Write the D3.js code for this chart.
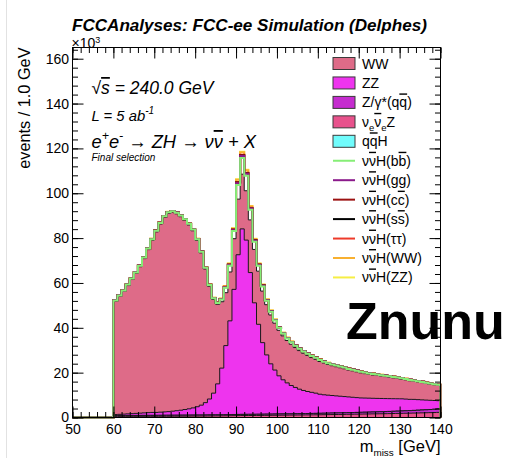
<!DOCTYPE html>
<html>
<head>
<meta charset="utf-8">
<script src="https://cdn.jsdelivr.net/npm/d3@7"></script>
<style>
  body { margin: 0; background: #fff; }
  svg { display: block; font-family: "Liberation Sans", Arial, Helvetica, sans-serif; }
</style>
</head>
<body>
<div id="chart"></div>
<script>
// 1 GeV bins from 60 to 140 (values in units of 10^3 events)
const bins = d3.range(60, 140);

const WW = [
  50.5, 52.6, 54.7, 57.2, 59.8, 62.4, 65.3, 68.8, 72.7, 76.8,
  80.5, 83.9, 86.7, 88.4, 88.6, 87.8, 86.3, 84.3, 82.0, 79.0,
  74.2, 67.9, 59.6, 50.3, 41.8, 35.5, 29.6, 23.6, 21.8, 22.6,
  24.8, 24.4, 22.0, 23.5, 23.8, 23.7, 23.0, 22.4, 21.8, 20.9,
  20.3, 19.6, 18.9, 18.4, 17.8, 17.2, 16.6, 16.1, 15.5, 15.1,
  14.6, 14.2, 13.7, 13.3, 13.0, 12.7, 12.4, 12.0, 11.8, 11.5,
  11.2, 10.9, 10.6, 10.4, 10.2, 10.0, 9.8, 9.6, 9.3, 9.1,
  8.8, 8.6, 8.3, 8.1, 7.9, 7.7, 7.4, 7.2, 7.0, 6.8
];
const ZZ = [
  0.4, 0.5, 0.6, 0.7, 0.8, 0.9, 1.0, 1.1, 1.2, 1.3,
  1.3, 1.4, 1.5, 1.6, 1.8, 2.0, 2.2, 2.5, 2.8, 3.2,
  3.7, 4.4, 5.5, 7.1, 9.7, 13.8, 20.8, 30.8, 41.8, 55.8,
  71.2, 82.7, 77.7, 63.2, 49.7, 40.1, 31.9, 26.4, 22.4, 19.6,
  17.0, 15.2, 13.8, 12.6, 11.7, 10.9, 10.3, 9.8, 9.4, 9.0,
  8.5, 8.2, 8.0, 7.8, 7.6, 7.4, 7.2, 7.0, 6.8, 6.6,
  6.4, 6.3, 6.2, 6.1, 6.0, 5.9, 5.8, 5.7, 5.6, 5.5,
  5.4, 5.2, 5.0, 4.9, 4.7, 4.5, 4.3, 4.1, 3.9, 3.7
];
const Zgamma = [
  0.40, 0.40, 0.40, 0.41, 0.41, 0.41, 0.41, 0.42, 0.42, 0.42,
  0.42, 0.42, 0.43, 0.43, 0.43, 0.43, 0.44, 0.44, 0.44, 0.44,
  0.45, 0.45, 0.45, 0.46, 0.46, 0.47, 0.47, 0.48, 0.48, 0.49,
  0.49, 0.50, 0.50, 0.51, 0.51, 0.52, 0.52, 0.53, 0.53, 0.54,
  0.55, 0.55, 0.56, 0.57, 0.58, 0.59, 0.60, 0.61, 0.62, 0.63,
  0.64, 0.65, 0.66, 0.67, 0.68, 0.70, 0.71, 0.73, 0.74, 0.76,
  0.78, 0.80, 0.82, 0.84, 0.86, 0.89, 0.92, 0.95, 0.98, 1.01,
  1.05, 1.09, 1.13, 1.17, 1.22, 1.27, 1.32, 1.38, 1.44, 1.50
];
const nuenueZ = [
  0.50, 0.50, 0.50, 0.51, 0.51, 0.51, 0.52, 0.52, 0.53, 0.53,
  0.54, 0.55, 0.56, 0.57, 0.58, 0.59, 0.60, 0.61, 0.62, 0.63,
  0.64, 0.65, 0.66, 0.68, 0.70, 0.72, 0.74, 0.76, 0.79, 0.82,
  0.85, 0.87, 0.88, 0.89, 0.90, 0.92, 0.94, 0.96, 0.98, 1.00,
  1.02, 1.04, 1.06, 1.08, 1.10, 1.12, 1.14, 1.16, 1.18, 1.20,
  1.22, 1.25, 1.28, 1.31, 1.34, 1.37, 1.40, 1.43, 1.46, 1.49,
  1.52, 1.55, 1.58, 1.61, 1.64, 1.67, 1.70, 1.74, 1.78, 1.82,
  1.86, 1.90, 1.94, 1.98, 2.02, 2.07, 2.12, 2.17, 2.22, 2.28
];
const qqH = [
  0.01, 0.01, 0.01, 0.01, 0.01, 0.01, 0.01, 0.01, 0.01, 0.01,
  0.01, 0.01, 0.01, 0.01, 0.01, 0.01, 0.01, 0.01, 0.01, 0.01,
  0.01, 0.01, 0.01, 0.01, 0.01, 0.01, 0.02, 0.02, 0.03, 0.03,
  0.04, 0.04, 0.04, 0.03, 0.03, 0.02, 0.02, 0.02, 0.02, 0.02,
  0.02, 0.02, 0.02, 0.02, 0.02, 0.02, 0.02, 0.02, 0.02, 0.02,
  0.02, 0.02, 0.02, 0.02, 0.02, 0.02, 0.02, 0.02, 0.02, 0.02,
  0.02, 0.02, 0.02, 0.02, 0.02, 0.02, 0.02, 0.02, 0.02, 0.02,
  0.02, 0.02, 0.02, 0.02, 0.02, 0.02, 0.02, 0.02, 0.02, 0.02
];

const Hbb = [
  0.42, 0.43, 0.43, 0.44, 0.44, 0.45, 0.45, 0.46, 0.47, 0.48,
  0.49, 0.50, 0.50, 0.51, 0.51, 0.51, 0.50, 0.50, 0.50, 0.51,
  0.51, 0.52, 0.52, 0.53, 0.53, 0.58, 1.01, 2.16, 2.74, 3.38,
  6.34, 7.20, 6.70, 4.46, 3.46, 2.45, 2.09, 1.73, 1.44, 1.22,
  1.08, 1.01, 0.94, 0.86, 0.83, 0.79, 0.76, 0.72, 0.68, 0.65,
  0.61, 0.59, 0.58, 0.56, 0.55, 0.53, 0.52, 0.50, 0.49, 0.48,
  0.46, 0.45, 0.44, 0.43, 0.42, 0.41, 0.40, 0.39, 0.38, 0.37,
  0.36, 0.35, 0.34, 0.33, 0.32, 0.31, 0.30, 0.29, 0.29, 0.28
];
const Hgg = [
  0.05, 0.05, 0.05, 0.05, 0.05, 0.05, 0.05, 0.05, 0.05, 0.05,
  0.06, 0.06, 0.06, 0.06, 0.06, 0.06, 0.06, 0.06, 0.06, 0.06,
  0.06, 0.06, 0.06, 0.06, 0.06, 0.07, 0.13, 0.27, 0.34, 0.42,
  0.79, 0.90, 0.84, 0.56, 0.43, 0.31, 0.26, 0.22, 0.18, 0.15,
  0.14, 0.13, 0.12, 0.11, 0.10, 0.10, 0.09, 0.09, 0.09, 0.08,
  0.08, 0.07, 0.07, 0.07, 0.07, 0.06, 0.06, 0.06, 0.06, 0.06,
  0.05, 0.05, 0.05, 0.05, 0.05, 0.05, 0.05, 0.05, 0.05, 0.05,
  0.05, 0.05, 0.05, 0.05, 0.05, 0.04, 0.04, 0.04, 0.04, 0.04
];
const Hcc = [
  0.02, 0.02, 0.02, 0.02, 0.02, 0.02, 0.02, 0.02, 0.02, 0.02,
  0.02, 0.02, 0.02, 0.02, 0.02, 0.02, 0.02, 0.02, 0.02, 0.02,
  0.02, 0.02, 0.02, 0.02, 0.02, 0.02, 0.04, 0.09, 0.11, 0.14,
  0.26, 0.30, 0.28, 0.19, 0.14, 0.10, 0.09, 0.07, 0.06, 0.05,
  0.05, 0.04, 0.04, 0.04, 0.03, 0.03, 0.03, 0.03, 0.03, 0.03,
  0.03, 0.02, 0.02, 0.02, 0.02, 0.02, 0.02, 0.02, 0.02, 0.02,
  0.02, 0.02, 0.02, 0.02, 0.02, 0.02, 0.02, 0.02, 0.02, 0.02,
  0.01, 0.01, 0.01, 0.01, 0.01, 0.01, 0.01, 0.01, 0.01, 0.01
];
const Hss = [
  0, 0, 0, 0, 0, 0, 0, 0, 0, 0,
  0, 0, 0, 0, 0, 0, 0, 0, 0, 0,
  0, 0, 0, 0, 0, 0, 0.01, 0.01, 0.02, 0.02,
  0.04, 0.04, 0.04, 0.03, 0.02, 0.01, 0.01, 0.01, 0, 0,
  0, 0, 0, 0, 0, 0, 0, 0, 0, 0,
  0, 0, 0, 0, 0, 0, 0, 0, 0, 0,
  0, 0, 0, 0, 0, 0, 0, 0, 0, 0,
  0, 0, 0, 0, 0, 0, 0, 0, 0, 0
];
const Htautau = [
  0.01, 0.01, 0.01, 0.01, 0.01, 0.01, 0.01, 0.01, 0.01, 0.01,
  0.01, 0.01, 0.01, 0.01, 0.01, 0.01, 0.01, 0.01, 0.01, 0.01,
  0.01, 0.01, 0.01, 0.01, 0.01, 0.01, 0.03, 0.07, 0.09, 0.11,
  0.21, 0.24, 0.22, 0.15, 0.11, 0.08, 0.07, 0.06, 0.05, 0.04,
  0.04, 0.03, 0.03, 0.03, 0.03, 0.03, 0.02, 0.02, 0.02, 0.02,
  0.02, 0.02, 0.02, 0.02, 0.02, 0.02, 0.02, 0.02, 0.02, 0.02,
  0.01, 0.01, 0.01, 0.01, 0.01, 0.01, 0.01, 0.01, 0.01, 0.01,
  0.01, 0.01, 0.01, 0.01, 0.01, 0.01, 0.01, 0.01, 0.01, 0.01
];
const HWW = [
  0.07, 0.07, 0.07, 0.07, 0.07, 0.07, 0.07, 0.07, 0.07, 0.07,
  0.08, 0.08, 0.08, 0.08, 0.08, 0.08, 0.08, 0.08, 0.08, 0.08,
  0.08, 0.08, 0.08, 0.08, 0.08, 0.09, 0.15, 0.33, 0.42, 0.52,
  0.97, 1.10, 1.02, 0.68, 0.53, 0.37, 0.32, 0.26, 0.22, 0.19,
  0.17, 0.15, 0.14, 0.13, 0.13, 0.12, 0.12, 0.11, 0.10, 0.10,
  0.09, 0.09, 0.09, 0.09, 0.09, 0.08, 0.08, 0.08, 0.08, 0.08,
  0.07, 0.07, 0.07, 0.07, 0.07, 0.06, 0.06, 0.06, 0.06, 0.06,
  0.06, 0.06, 0.06, 0.06, 0.06, 0.05, 0.05, 0.05, 0.05, 0.05
];
const HZZ = [
  0.01, 0.01, 0.01, 0.01, 0.01, 0.01, 0.01, 0.01, 0.01, 0.01,
  0.01, 0.01, 0.01, 0.01, 0.01, 0.01, 0.01, 0.01, 0.01, 0.01,
  0.01, 0.01, 0.01, 0.01, 0.01, 0.01, 0.03, 0.07, 0.09, 0.11,
  0.21, 0.25, 0.23, 0.15, 0.12, 0.08, 0.07, 0.06, 0.05, 0.04,
  0.03, 0.03, 0.03, 0.03, 0.03, 0.03, 0.02, 0.02, 0.02, 0.02,
  0.02, 0.02, 0.02, 0.02, 0.02, 0.02, 0.02, 0.02, 0.02, 0.02,
  0.01, 0.01, 0.01, 0.01, 0.01, 0.01, 0.01, 0.01, 0.01, 0.01,
  0.01, 0.01, 0.01, 0.01, 0.01, 0.01, 0.01, 0.01, 0.01, 0.01
];

const xTicks = d3.range(50, 141, 10);
const yTicks = d3.range(0, 161, 20);

// stacking order, bottom to top
const bgKeys = ['nuenueZ', 'Zgamma', 'qqH', 'ZZ', 'WW'];
const sigKeys = ['Hbb', 'Hgg', 'Hcc', 'Hss', 'Htautau', 'HWW', 'HZZ'];
const series = { WW, ZZ, Zgamma, nuenueZ, qqH, Hbb, Hgg, Hcc, Hss, Htautau, HWW, HZZ };

const colors = {
  WW: '#de6b88', ZZ: '#ee34ee', Zgamma: '#c52ccf', nuenueZ: '#e8528c', qqH: '#70fcfc',
  Hbb: '#86ee76', Hgg: '#8b1a8b', Hcc: '#9c1212', Hss: '#000000',
  Htautau: '#ee3a2a', HWW: '#f8b030', HZZ: '#f6ee44'
};

const W = 507, H = 458;
const x = d3.scaleLinear().domain([50, 140]).range([72.5, 440.5]);
const y = d3.scaleLinear().domain([0, 165]).range([417.5, 47.5]);

const svg = d3.select('#chart').append('svg')
  .attr('width', W)
  .attr('height', H)
  .attr('viewBox', [0, 0, W, H]);

// faint page border seen at left of the reference
svg.append('line')
  .attr('x1', 6.5).attr('x2', 6.5).attr('y1', 0).attr('y2', H)
  .attr('stroke', '#e2e2e2');

svg.append('defs').append('clipPath').attr('id', 'frame')
  .append('rect')
  .attr('x', x(50) - 1).attr('y', y(165))
  .attr('width', x(140) - x(50) + 2).attr('height', y(0) - y(165) + 2);

const rows = bins.map((b, i) => {
  const r = { bin: b };
  Object.keys(series).forEach(k => { r[k] = series[k][i]; });
  return r;
});
const stacked = d3.stack().keys([...bgKeys, ...sigKeys])(rows);
const byKey = {};
stacked.forEach(s => { byKey[s.key] = s; });

const line = d3.line().x(d => x(d[0])).y(d => y(d[1]));

// step outline of a cumulative histogram
function stepPoints(s, fromX) {
  const pts = [];
  if (fromX < bins[0]) pts.push([fromX, 0]);
  pts.push([bins[0], 0]);
  s.forEach((d, i) => {
    pts.push([bins[i], d[1]]);
    pts.push([bins[i] + 1, d[1]]);
  });
  pts.push([bins[bins.length - 1] + 1, 0]);
  return pts;
}

const plot = svg.append('g').attr('clip-path', 'url(#frame)');

// backgrounds: paint from the top of the stack downwards (THStack style)
bgKeys.slice().reverse().forEach(k => {
  plot.append('path')
    .attr('d', line(stepPoints(byKey[k], bins[0])) + 'Z')
    .attr('fill', colors[k])
    .attr('stroke', '#1a1a1a')
    .attr('stroke-width', 1);
});

// signals: unfilled lines stacked on top of the backgrounds
sigKeys.slice().reverse().forEach(k => {
  plot.append('path')
    .attr('d', line(stepPoints(byKey[k], 50)))
    .attr('fill', 'none')
    .attr('stroke', colors[k])
    .attr('stroke-width', 2);
});

// ----- axes, ROOT style ticks inside the frame -----
function styleAxis(g) {
  g.select('.domain').remove();
  g.selectAll('line').attr('stroke', '#000');
  g.selectAll('text').attr('font-size', 14).attr('font-family', null).attr('fill', '#000');
}
const fBottom = y(0), fTop = y(165), fLeft = x(50), fRight = x(140);

svg.append('g').attr('transform', `translate(0,${fBottom})`)
  .call(d3.axisBottom(x).tickValues(d3.range(50, 141, 2)).tickSize(-5.5).tickFormat(''))
  .call(styleAxis);
svg.append('g').attr('transform', `translate(0,${fBottom})`)
  .call(d3.axisBottom(x).tickValues(xTicks).tickSize(-11).tickPadding(6.5).tickFormat(d3.format('d')))
  .call(styleAxis);
svg.append('g').attr('transform', `translate(0,${fTop})`)
  .call(d3.axisTop(x).tickValues(d3.range(50, 141, 2)).tickSize(-5.5).tickFormat(''))
  .call(styleAxis);
svg.append('g').attr('transform', `translate(0,${fTop})`)
  .call(d3.axisTop(x).tickValues(xTicks).tickSize(-11).tickFormat(''))
  .call(styleAxis);

svg.append('g').attr('transform', `translate(${fLeft},0)`)
  .call(d3.axisLeft(y).tickValues(d3.range(0, 165, 4)).tickSize(-5.5).tickFormat(''))
  .call(styleAxis);
svg.append('g').attr('transform', `translate(${fLeft},0)`)
  .call(d3.axisLeft(y).tickValues(yTicks).tickSize(-11).tickPadding(3.5).tickFormat(d3.format('d')))
  .call(styleAxis);
svg.append('g').attr('transform', `translate(${fRight},0)`)
  .call(d3.axisRight(y).tickValues(d3.range(0, 165, 4)).tickSize(-5.5).tickFormat(''))
  .call(styleAxis);
svg.append('g').attr('transform', `translate(${fRight},0)`)
  .call(d3.axisRight(y).tickValues(yTicks).tickSize(-11).tickFormat(''))
  .call(styleAxis);

svg.append('rect')
  .attr('x', fLeft).attr('y', fTop)
  .attr('width', fRight - fLeft).attr('height', fBottom - fTop)
  .attr('fill', 'none').attr('stroke', '#000').attr('stroke-width', 1);

// text with sub/superscripts and overlines: parts = [[text, mode], ...]
function rich(g, parts, size, px, py, opts = {}) {
  const t = g.append('text')
    .attr('x', px).attr('y', py)
    .attr('font-size', size)
    .attr('fill', '#000');
  if (opts.italic) t.attr('font-style', 'italic');
  if (opts.bold) t.attr('font-weight', 'bold');
  if (opts.anchor) t.attr('text-anchor', opts.anchor);
  const small = opts.small || 0.68;
  const supUp = opts.supUp || 0.42;
  let shift = 0;
  parts.forEach(([s, mode]) => {
    const ts = t.append('tspan').text(s);
    const target = mode === 'sub' ? 0.28 * size : mode === 'sup' ? -supUp * size : 0;
    if (target !== shift) ts.attr('dy', target - shift);
    shift = target;
    if (mode === 'sub' || mode === 'sup') ts.attr('font-size', size * small);
    if (mode === 'over') ts.style('text-decoration', 'overline');
  });
  return t;
}

// title, fitted to the reference width
const title = svg.append('text')
  .attr('x', 72).attr('y', 31)
  .attr('font-size', 18).attr('font-weight', 'bold').attr('font-style', 'italic')
  .text('FCCAnalyses: FCC-ee Simulation (Delphes)');
const tw = title.node().getComputedTextLength();
title.attr('font-size', 18 * 355 / tw);

rich(svg, [['×10'], ['3', 'sup']], 14, 71.5, 47.5, { small: 0.64, supUp: 0.34 });

// axis titles
svg.append('text')
  .attr('transform', `translate(29.5,${fTop}) rotate(-90)`)
  .attr('text-anchor', 'end')
  .attr('font-size', 16.3)
  .text('events / 1.0 GeV');
rich(svg, [['m'], ['miss', 'sub'], [' [GeV]']], 16.5, fRight, 451.5, { anchor: 'end', small: 0.6 });

// annotations
rich(svg, [['√'], ['s', 'over'], [' = 240.0 GeV']], 17.5, 91.5, 94, { italic: true });
rich(svg, [['L = 5 ab'], ['-1', 'sup']], 14.8, 91.5, 120.5, { italic: true });
rich(svg, [['e'], ['+', 'sup'], ['e'], ['-', 'sup'], [' → ZH → ν'], ['ν', 'over'], [' + X']], 18.3, 91.5, 148, { italic: true });
svg.append('text')
  .attr('x', 91.5).attr('y', 160.5)
  .attr('font-size', 10).attr('font-style', 'italic')
  .text('Final selection');

// legend
const legendItems = [
  { key: 'WW', box: true, label: [['WW']] },
  { key: 'ZZ', box: true, label: [['ZZ']] },
  { key: 'Zgamma', box: true, label: [['Z/γ*(q'], ['q', 'over'], [')']] },
  { key: 'nuenueZ', box: true, label: [['ν'], ['e', 'sub'], ['ν', 'over'], ['e', 'sub'], ['Z']] },
  { key: 'qqH', box: true, label: [['q'], ['q', 'over'], ['H']] },
  { key: 'Hbb', label: [['ν'], ['ν', 'over'], ['H(b'], ['b', 'over'], [')']] },
  { key: 'Hgg', label: [['ν'], ['ν', 'over'], ['H(gg)']] },
  { key: 'Hcc', label: [['ν'], ['ν', 'over'], ['H(c'], ['c', 'over'], [')']] },
  { key: 'Hss', label: [['ν'], ['ν', 'over'], ['H(s'], ['s', 'over'], [')']] },
  { key: 'Htautau', label: [['ν'], ['ν', 'over'], ['H(ττ)']] },
  { key: 'HWW', label: [['ν'], ['ν', 'over'], ['H(WW)']] },
  { key: 'HZZ', label: [['ν'], ['ν', 'over'], ['H(ZZ)']] }
];
const legend = svg.append('g');
legendItems.forEach((d, i) => {
  const cy = 63.5 + i * 19.45;
  if (d.box) {
    legend.append('rect')
      .attr('x', 333).attr('y', cy - 6)
      .attr('width', 22).attr('height', 12)
      .attr('fill', colors[d.key])
      .attr('stroke', '#3a3a3a').attr('stroke-width', 1);
  } else {
    legend.append('line')
      .attr('x1', 333).attr('x2', 355).attr('y1', cy).attr('y2', cy)
      .attr('stroke', colors[d.key]).attr('stroke-width', 2);
  }
  rich(legend, d.label, 14, 362, cy + 5);
});

// big overlay label
svg.append('text')
  .attr('x', 346).attr('y', 338.5)
  .attr('font-size', 52).attr('font-weight', 'bold')
  .text('Znunu');
</script>
</body>
</html>
